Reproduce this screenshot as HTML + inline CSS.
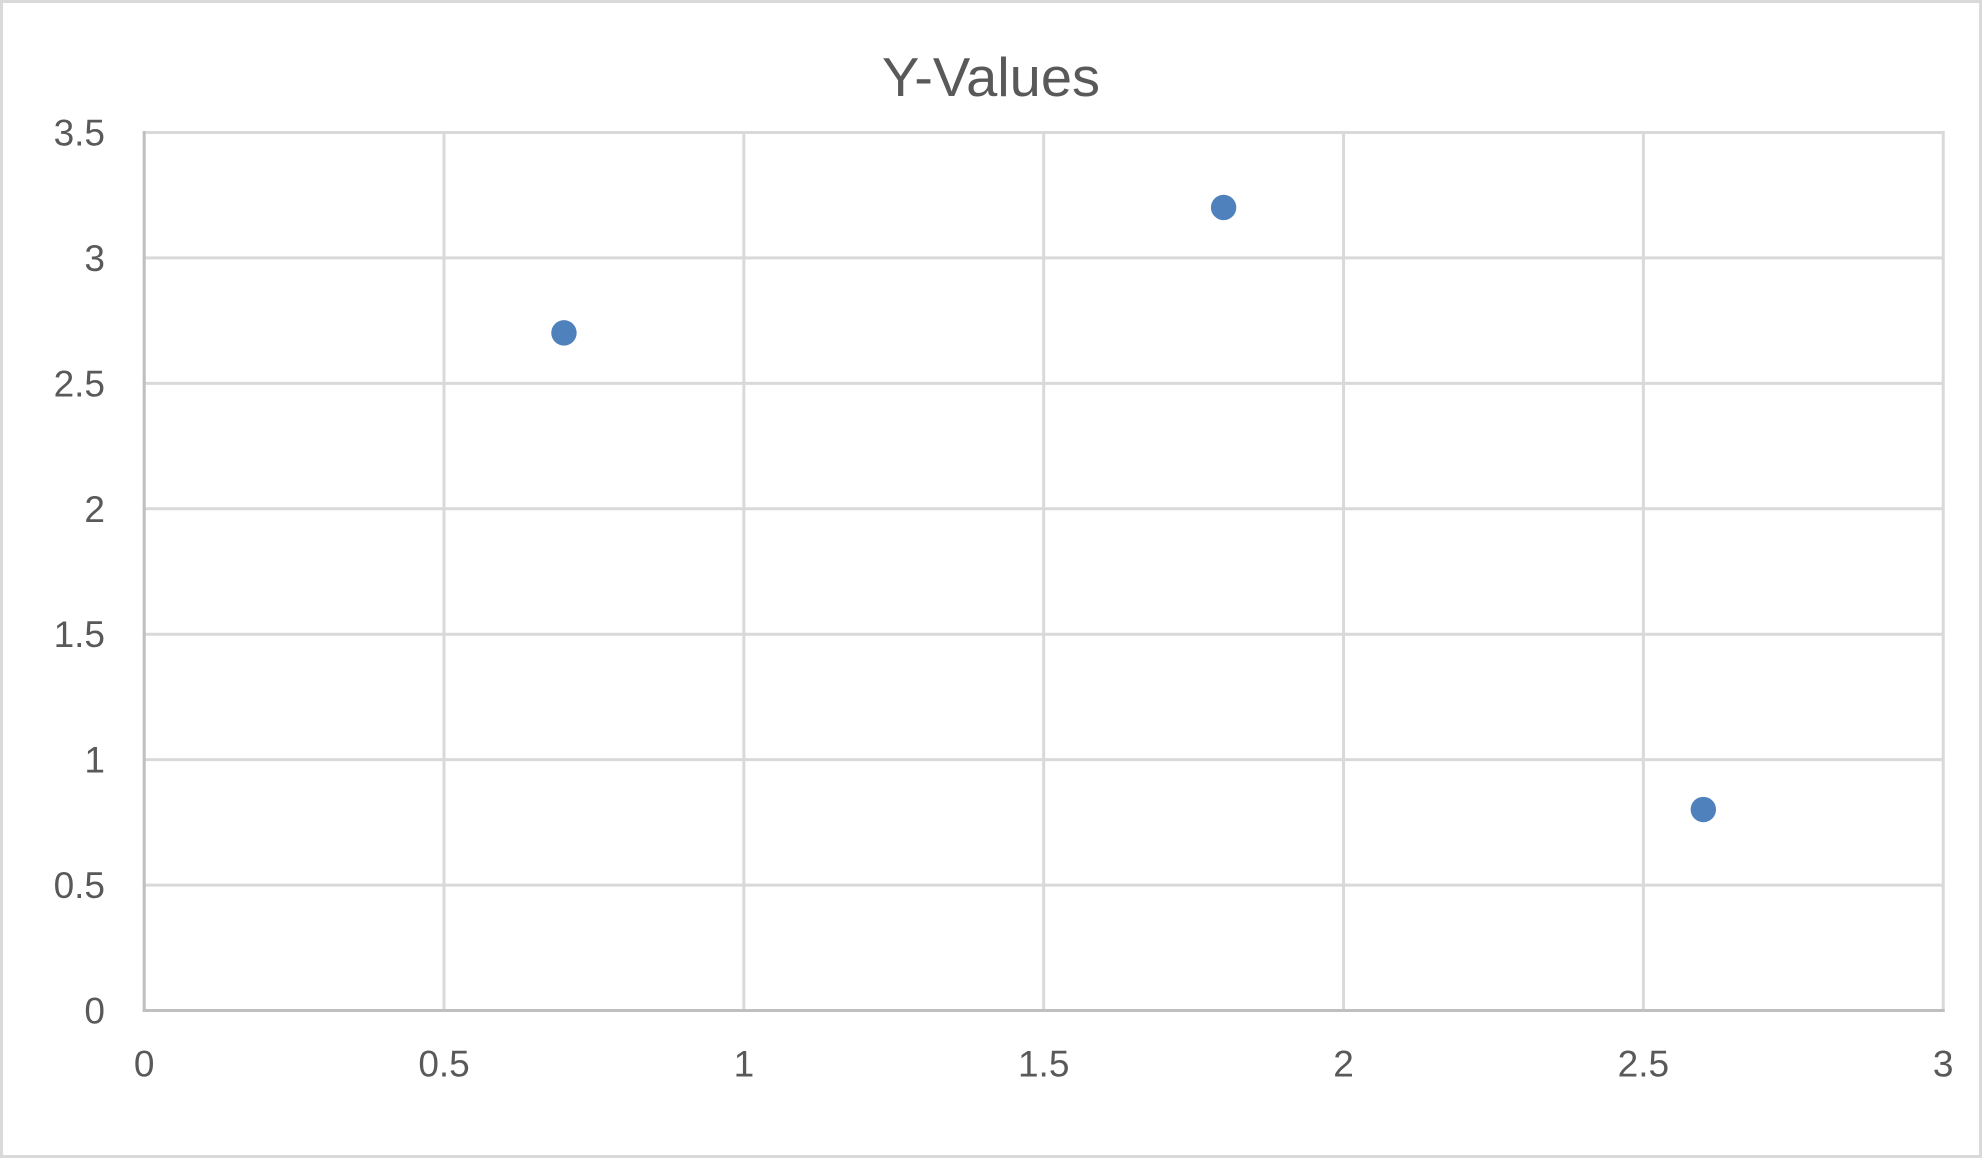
<!DOCTYPE html>
<html lang="en">
<head>
<meta charset="utf-8">
<title>Y-Values</title>
<style>
html,body{margin:0;padding:0;background:#fff;}
svg{display:block;}
text{font-family:"Liberation Sans",sans-serif;fill:#595959;}
</style>
</head>
<body>
<svg id="chart" xmlns="http://www.w3.org/2000/svg" width="1982" height="1158" viewBox="0 0 1982 1158">
  <rect x="1.5" y="1.5" width="1979" height="1155" fill="#ffffff" stroke="#d9d9d9" stroke-width="3"/>
  <text x="991" y="96" font-size="55" text-anchor="middle" textLength="218" lengthAdjust="spacingAndGlyphs">Y-Values</text>
  <g id="grid"></g>
  <g id="axes"></g>
  <g id="labels"></g>
  <g id="points"></g>
</svg>
<script>
const xTicks = [0, 0.5, 1, 1.5, 2, 2.5, 3];
const yTicks = [0, 0.5, 1, 1.5, 2, 2.5, 3, 3.5];
const xValues = [0.7, 1.8, 2.6];
const yValues = [2.7, 3.2, 0.8];

const NS = 'http://www.w3.org/2000/svg';
const plotLeft = 144.2, plotRight = 1943.2, plotTop = 132.5, plotBottom = 1010.5;
const xMax = xTicks[xTicks.length - 1];
const yMax = yTicks[yTicks.length - 1];
function xScale(v) { return plotLeft + (v / xMax) * (plotRight - plotLeft); }
function yScale(v) { return plotBottom - (v / yMax) * (plotBottom - plotTop); }

function line(parent, x1, y1, x2, y2, color) {
  const l = document.createElementNS(NS, 'line');
  l.setAttribute('x1', x1);
  l.setAttribute('y1', y1);
  l.setAttribute('x2', x2);
  l.setAttribute('y2', y2);
  l.setAttribute('stroke', color);
  l.setAttribute('stroke-width', '3');
  l.setAttribute('stroke-linecap', 'square');
  parent.appendChild(l);
  return l;
}
function label(parent, x, y, str, anchor) {
  const t = document.createElementNS(NS, 'text');
  t.setAttribute('x', x);
  t.setAttribute('y', y);
  t.setAttribute('font-size', '37');
  t.setAttribute('text-anchor', anchor);
  t.textContent = str;
  parent.appendChild(t);
  return t;
}

const grid = document.getElementById('grid');
const axes = document.getElementById('axes');
const labels = document.getElementById('labels');
const points = document.getElementById('points');

xTicks.forEach(function (v) {
  if (v !== 0) {
    const g = line(grid, xScale(v), plotTop, xScale(v), plotBottom, '#d9d9d9');
    
    
  }
  const t = label(labels, xScale(v), 1076.5, String(v), 'middle');
  
  
});

yTicks.forEach(function (v) {
  if (v !== 0) {
    const g = line(grid, plotLeft, yScale(v), plotRight, yScale(v), '#d9d9d9');
    
    
  }
  const t = label(labels, 105, yScale(v) + 13, String(v), 'end');
  
  
});

const yAxis = line(axes, plotLeft, plotTop, plotLeft, plotBottom, '#bfbfbf');


const xAxis = line(axes, plotLeft, plotBottom, plotRight, plotBottom, '#bfbfbf');



xValues.forEach(function (xv, i) {
  const c = document.createElementNS(NS, 'circle');
  c.setAttribute('cx', xScale(xv));
  c.setAttribute('cy', yScale(yValues[i]) - 0.3);
  c.setAttribute('r', '12.7');
  c.setAttribute('fill', '#4f81bd');
  
  
  points.appendChild(c);
});
</script>
</body>
</html>
